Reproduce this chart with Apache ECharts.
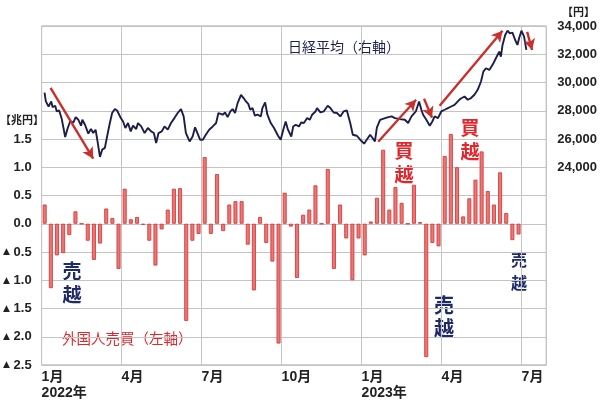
<!DOCTYPE html>
<html><head><meta charset="utf-8">
<script src="https://cdn.jsdelivr.net/npm/echarts@6/dist/echarts.min.js"></script>
<style>html,body{margin:0;padding:0;background:#fff}#c{width:600px;height:401px}</style>
</head><body><div id="c"></div>
<script>
// ---- data ----
const weekCount = 82; // weekly slots from Jan 2022 to end of Jul 2023
const flowValues = [0.34,-1.14,-0.56,-0.52,-0.20,0.22,0,-0.30,-0.64,-0.35,
  0.27,0.10,-0.80,0.62,0.08,0.12,-0.02,-0.30,-0.74,-0.10,
  0.25,0.62,0.63,-1.72,-0.30,-0.18,1.18,-0.18,0.88,-0.13,
  0.34,0.40,0.40,-0.37,-1.18,0.12,-0.34,-0.67,-2.12,0.55,
  -0.05,-0.96,0.16,0.25,0.68,0,0.97,-0.80,0.34,-0.26,
  -1.00,-0.26,-0.56,0.04,0.46,1.31,0.25,0.65,0.37,0,
  0.69,0.03,-2.36,-0.34,-0.40,1.20,1.59,1.00,0.13,0.45,
  0.78,1.28,0.58,0.34,0.91,0.19,-0.29,-0.19];
const nikkeiWeeks = [0.48,0.69,1.13,1.57,1.78,2.21,2.47,2.86,3.28,3.55,3.83,4.25,4.63,5.17,5.54,5.97,6.41,6.62,7.05,7.59,
  8.02,8.39,8.77,9.09,9.48,9.85,10.28,10.70,11.09,11.46,11.90,12.27,12.54,12.87,13.24,13.61,14.04,14.48,14.85,15.38,
  15.66,16.19,16.74,17.27,17.80,18.24,18.61,19.00,19.53,19.97,20.50,21.03,21.58,22.11,22.65,23.08,23.45,24.05,24.54,24.94,
  25.75,26.20,26.68,27.23,27.44,27.81,28.36,28.73,29.43,29.81,30.23,30.67,31.04,31.43,31.85,32.40,32.82,33.20,33.58,33.90,
  34.27,34.66,35.08,35.63,35.88,36.32,36.69,37.24,37.77,38.42,38.85,39.27,39.66,40.03,40.57,40.89,41.28,41.81,42.18,42.62,
  43.15,43.58,43.96,44.50,44.76,45.31,45.84,46.49,46.93,47.46,47.99,48.54,49.07,49.60,50.15,50.57,51.22,51.77,52.41,52.83,
  53.38,53.75,54.16,54.48,55.00,55.69,56.34,56.87,57.42,58.22,59.03,59.56,60.10,60.81,61.34,61.71,61.99,62.52,63.07,63.49,
  63.87,64.41,64.94,65.49,66.02,66.55,67.10,67.63,68.01,68.72,69.25,69.78,70.33,70.86,71.40,71.78,72.20,72.75,73.28,73.82,
  74.37,74.63,74.90,75.33,75.71,76.08,76.51,76.95,77.32,77.59,77.97,78.40,78.77];
const nikkeiValues = [29290,28660,28300,28660,28260,28350,27950,28020,27410,27480,26140,26780,27240,27170,27550,27360,26940,27360,27010,26380,
  26710,26420,26660,25830,24730,25250,25370,26300,27130,27840,28120,28020,28120,27480,27240,26780,27130,26540,26940,26710,
  27130,26890,26420,26780,26540,26420,25720,26420,26540,26890,26660,27130,27480,27840,28120,27600,26420,25830,26180,26830,
  25950,25950,26300,26660,26540,26890,27130,27840,27720,27880,27550,27950,28120,27840,28540,29130,28900,28660,28490,28070,
  28190,27650,27720,27600,28190,28590,27720,27130,26780,26230,25950,26660,27240,26660,26180,26890,27010,26890,27170,27130,
  27480,27360,27720,27950,28190,27880,27950,28350,28190,27880,27840,27600,27950,28020,27130,26300,26230,25950,25670,25950,
  26300,26090,25830,26800,27360,27460,27550,27600,27480,27410,27360,27130,27600,27950,28660,28070,27720,27360,26940,27240,
  27600,27480,27950,28070,28190,28300,28420,28660,28830,29010,28780,28900,29130,29480,30070,30770,31010,30890,31250,31720,
  32190,31830,32660,33360,33670,33480,33530,33010,32660,33130,33670,33250,32310];
const monthTickWeeks = [0,13,26,39,52,65,78];
const monthTickLabels = ['1月\n2022年','4月','7月','10月','1月\n2023年','4月','7月'];
// annotation arrows in data units [week, yen]
const arrowSegments = [
  [[1.45,29620],[8.39,24610]],
  [[54.7,25810],[60.85,28780]],
  [[62.15,28850],[63.44,27500]],
  [[64.68,28350],[74.9,33670]],
  [[78.9,33580],[79.7,32300]]
];

const weekCats = Array.from({length: weekCount}, (_, i) => 'W' + i);
const FONT = 'Liberation Sans, "Noto Sans CJK JP", sans-serif';
const CJK = '"Noto Sans CJK JP", sans-serif';

const chart = echarts.init(document.getElementById('c'), null, {renderer: 'canvas'});
chart.setOption({
  animation: false,
  backgroundColor: '#fff',
  textStyle: {fontFamily: FONT},
  grid: {left: 41, right: 51, top: 26, bottom: 35, show: true, borderColor: '#a3a3a3', borderWidth: 1, containLabel: false},
  xAxis: [{
    type: 'value', min: 0, max: weekCount, interval: 13,
    axisLine: {show: false}, axisTick: {show: false},
    splitLine: {show: true, lineStyle: {color: '#c4c4c4', width: 1}},
    axisLabel: {
      show: true, align: 'left', margin: 4, lineHeight: 16,
      color: '#222', fontWeight: 'bold', fontSize: 14, fontFamily: FONT,
      showMaxLabel: false,
      formatter: v => { const k = monthTickWeeks.indexOf(Math.round(v)); return (k >= 0 && Math.abs(v - Math.round(v)) < 1e-6) ? monthTickLabels[k] : ''; }
    }
  }, {
    type: 'category', data: weekCats, boundaryGap: true, show: false, position: 'top'
  }],
  yAxis: [{
    type: 'value', min: -2.5, max: 3.5, interval: 0.5, position: 'left',
    axisLine: {show: false}, axisTick: {show: false},
    splitLine: {show: true, lineStyle: {color: '#c4c4c4', width: 1}},
    axisLabel: {
      margin: 10, color: '#222', fontWeight: 'bold', fontSize: 13, fontFamily: FONT,
      formatter: v => {
        if (v > 1.5 + 1e-9) return '';
        if (v < -1e-9) return '{t|▲} ' + (-v).toFixed(1);
        return Math.abs(v).toFixed(1);
      },
      rich: {t: {fontSize: 9, color: '#222', fontFamily: 'DejaVu Sans'}}
    }
  }, {
    type: 'value', min: 10000, max: 34000, interval: 2000, position: 'right',
    axisLine: {show: false}, axisTick: {show: false}, splitLine: {show: false},
    axisLabel: {
      margin: 11, color: '#222', fontWeight: 'bold', fontSize: 13, fontFamily: FONT,
      formatter: v => v >= 24000 ? v.toLocaleString('en-US') : ''
    }
  }],
  series: [{
    type: 'bar', xAxisIndex: 1, yAxisIndex: 0,
    data: flowValues, barWidth: 4,
    itemStyle: {color: '#ea7676', borderColor: '#d63c3c', borderWidth: 0.9},
    z: 2
  }, {
    type: 'line', xAxisIndex: 0, yAxisIndex: 1,
    data: nikkeiWeeks.map((w, i) => [w, nikkeiValues[i]]),
    showSymbol: false, symbol: 'none',
    lineStyle: {color: '#1b1e4b', width: 1.9},
    z: 3,
    markLine: {
      silent: true, symbol: ['none', 'arrow'], symbolSize: [9, 11],
      label: {show: false},
      lineStyle: {color: '#c8302c', width: 2.4, type: 'solid'},
      emphasis: {disabled: true},
      data: arrowSegments.map(s => [{coord: s[0]}, {coord: s[1]}])
    }
  }],
  graphic: [
    {type: 'text', left: 288, top: 40, style: {text: '日経平均（右軸）', fontSize: 14, fill: '#1c2050', fontFamily: CJK}},
    {type: 'text', left: 62, top: 331, style: {text: '外国人売買（左軸）', fontSize: 14.5, fill: '#e3262b', fontFamily: CJK}},
    {type: 'text', left: 562, top: 6, style: {text: '【円】', fontSize: 11, fontWeight: 'bold', fill: '#222', fontFamily: CJK}},
    {type: 'text', left: 0, top: 114, style: {text: '【兆円】', fontSize: 11, fontWeight: 'bold', fill: '#222', fontFamily: CJK}},
    {type: 'text', x: 72, y: 283, style: {text: '売\n越', fontSize: 19, lineHeight: 24, fontWeight: 'bold', fill: '#1f2a6b', fontFamily: CJK, align: 'center', verticalAlign: 'middle'}},
    {type: 'text', x: 444, y: 317, style: {text: '売\n越', fontSize: 20, lineHeight: 23, fontWeight: 'bold', fill: '#1f2a6b', fontFamily: CJK, align: 'center', verticalAlign: 'middle'}},
    {type: 'text', x: 519, y: 271, style: {text: '売\n越', fontSize: 16, lineHeight: 23, fontWeight: 'bold', fill: '#1f2a6b', fontFamily: CJK, align: 'center', verticalAlign: 'middle'}},
    {type: 'text', x: 404, y: 163, style: {text: '買\n越', fontSize: 19, lineHeight: 24, fontWeight: 'bold', fill: '#e3262b', fontFamily: CJK, align: 'center', verticalAlign: 'middle'}},
    {type: 'text', x: 470, y: 140, style: {text: '買\n越', fontSize: 19, lineHeight: 24, fontWeight: 'bold', fill: '#e3262b', fontFamily: CJK, align: 'center', verticalAlign: 'middle'}}
  ]
});
</script>
</body></html>
